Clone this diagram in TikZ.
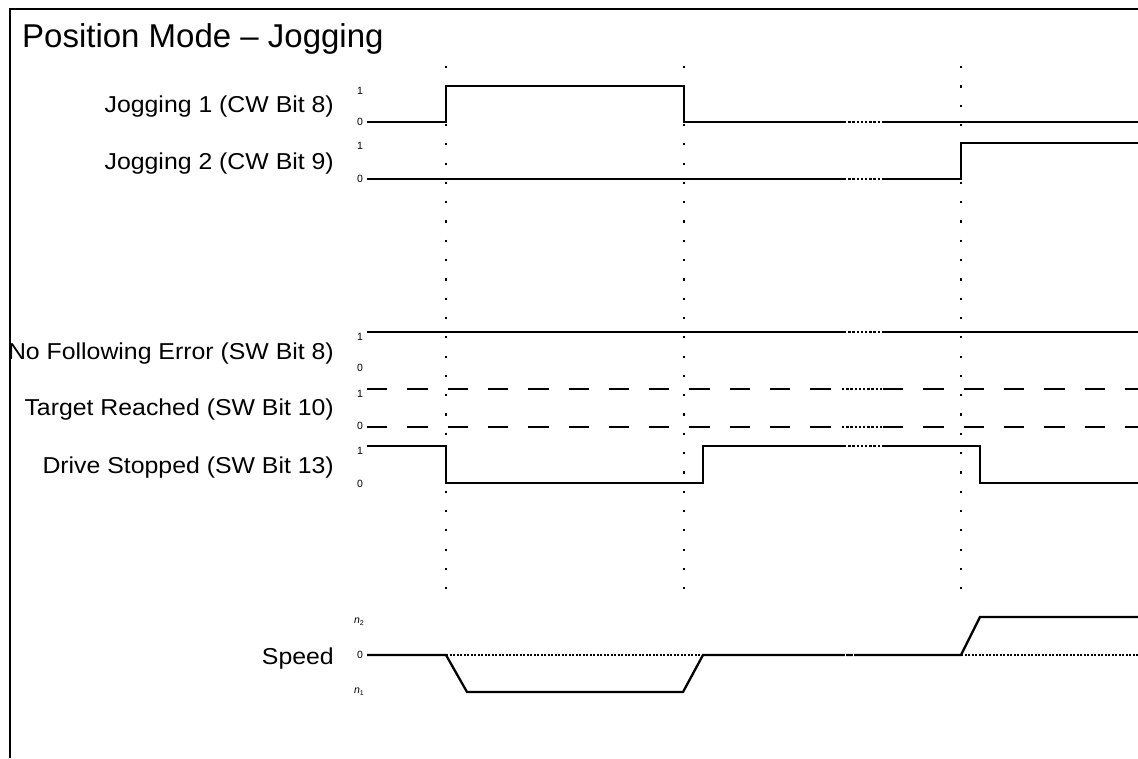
\documentclass[tikz,border=0pt]{standalone}
\usepackage{fontspec}
\setmainfont{Liberation Sans}
\newfontfamily\labfont[FakeStretch=1.08]{Liberation Sans}
\begin{document}
\begin{tikzpicture}[x=1pt,y=-1pt,
  sig/.style={line width=2.3pt, line cap=butt, line join=miter},
  dsig/.style={line width=2.3pt, dash pattern=on 20.3pt off 20pt},
  gridln/.style={line width=2.2pt, dash pattern=on 2.2pt off 17.1pt},
  brk/.style={line width=2.3pt, dash pattern=on 2.4pt off 1.8pt},
  zeroln/.style={line width=1.8pt, dash pattern=on 2.2pt off 1.3pt},
  mask/.style={draw=white, line width=3.4pt},
  lab/.style={font=\labfont\fontsize{23}{27}\selectfont, inner sep=0pt, anchor=base east},
  lvl/.style={font=\fontsize{10.5}{12}\selectfont, inner sep=0pt},
  ttl/.style={font=\fontsize{33}{40}\selectfont, inner sep=0pt, anchor=base west}]
\useasboundingbox (0,0) rectangle (1138,758);
\fill[white] (0,0) rectangle (1138,758);
% labels
\node[lab] (l1) at (334,112) {Jogging 1 (CW Bit 8)};
\node[lab] (l2) at (334,169) {Jogging 2 (CW Bit 9)};
\node[lab] (l3) at (334,359) {No Following Error (SW Bit 8)};
\node[lab] (l4) at (334,415) {Target Reached (SW Bit 10)};
\node[lab] (l5) at (334,473) {Drive Stopped (SW Bit 13)};
\node[lab] (l6) at (334,664) {Speed};
% frame
\draw[line width=2.3pt] (10,758) -- (10,9) -- (1138,9);
\node[ttl] (title) at (22,47) {Position Mode -- Jogging};
% vertical dotted guides
\foreach \gx/\gn in {446/ga,684/gb,961/gc}{
  \coordinate (\gn top) at (\gx,66);
  \coordinate (\gn bot) at (\gx,589);
  \draw[gridln] (\gn top) -- (\gn bot);
}
% level markers
\node[lvl] (a1) at (360,91) {1};
\node[lvl] (a0) at (360,122) {0};
\node[lvl] (b1) at (360,146) {1};
\node[lvl] (b0) at (360,179) {0};
\node[lvl] (c1) at (360,337) {1};
\node[lvl] (c0) at (360,368) {0};
\node[lvl] (d1) at (360,394) {1};
\node[lvl] (d0) at (360,426) {0};
\node[lvl] (e1) at (360,451) {1};
\node[lvl] (e0) at (360,484) {0};
\node[lvl] (sn2) at (359,622) {\textit{n}\raisebox{-2pt}{\fontsize{7}{8}\selectfont 2}};
\node[lvl] (s0) at (360,655) {0};
\node[lvl] (sn1) at (359,692) {\textit{n}\raisebox{-2pt}{\fontsize{7}{8}\selectfont 1}};
% Jogging 1
\draw[sig] (367,122) -- (446,122) -- (446,86) -- (684,86) -- (684,122) -- (1138,122);
% Jogging 2
\draw[sig] (367,179) -- (961,179) -- (961,143) -- (1138,143);
% No following error
\draw[sig] (367,332) -- (1138,332);
% Target reached (dashed)
\draw[dsig] (367,389) -- (842,389);
\draw[dsig] (883,389) -- (1138,389);
\draw[dsig] (367,427) -- (842,427);
\draw[dsig] (883,427) -- (1138,427);
% Drive stopped
\draw[sig] (367,446) -- (446,446) -- (446,483) -- (703,483) -- (703,446) -- (980,446) -- (980,483) -- (1138,483);
% breaks
\foreach \by in {122,179,332,446}{
  \draw[mask] (844,\by) -- (882,\by);
  \draw[brk] (844,\by) -- (882,\by);
}
\foreach \by in {389,427}{
  \draw[brk] (842,\by) -- (882,\by);
}
% Speed
\draw[zeroln] (446,655) -- (703,655);
\draw[zeroln] (961,655) -- (1138,655);
\draw[sig] (367,655) -- (446,655) -- (467,692) -- (683,692) -- (703,655) -- (961,655) -- (980,617) -- (1138,617);
\draw[draw=white, line width=1.2pt] (845.5,653) -- (845.5,657);
\draw[draw=white, line width=1.2pt] (853.5,653) -- (853.5,657);
\end{tikzpicture}
\end{document}
